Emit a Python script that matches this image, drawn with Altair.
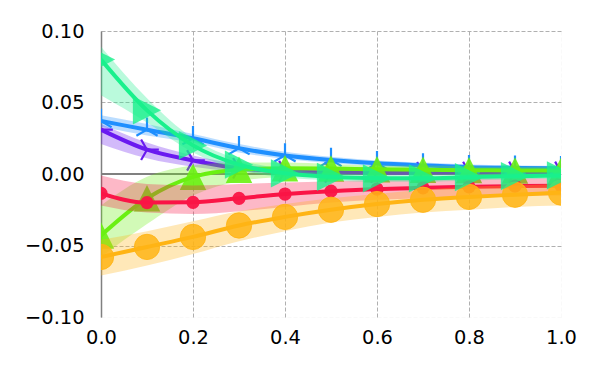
import altair as alt
import pandas as pd

# ---------------- data ----------------
x_vals = [0.0, 0.1, 0.2, 0.3, 0.4, 0.5, 0.6, 0.7, 0.8, 0.9, 1.0]

blue_mean = [0.037, 0.031, 0.025, 0.018, 0.013, 0.0098, 0.0075, 0.006, 0.0048, 0.0043, 0.004]
blue_lo = [0.033, 0.027, 0.022, 0.015, 0.0105, 0.0075, 0.0055, 0.004, 0.003, 0.0025, 0.0022]
blue_hi = [0.041, 0.035, 0.028, 0.021, 0.0155, 0.012, 0.0095, 0.008, 0.0066, 0.006, 0.0058]

purple_mean = [0.031, 0.017, 0.0095, 0.004, 0.002, 0.0012, 0.001, 0.0012, 0.0014, 0.0015, 0.0015]
purple_lo = [0.021, 0.011, 0.005, 0.0015, 0.0, -0.0005, -0.0008, -0.0005, -0.0003, -0.0002, -0.0002]
purple_hi = [0.035, 0.022, 0.013, 0.007, 0.004, 0.003, 0.0028, 0.0029, 0.003, 0.003, 0.003]

teal_mean = [0.080, 0.0445, 0.020, 0.0065, 0.0005, -0.002, -0.003, -0.003, -0.0022, -0.0015, -0.001]
teal_lo = [0.055, 0.036, 0.015, 0.003, -0.0025, -0.0045, -0.0055, -0.0055, -0.0045, -0.0038, -0.0032]
teal_hi = [0.089, 0.053, 0.025, 0.010, 0.0035, 0.0005, -0.0005, -0.0005, 0.0, 0.0008, 0.0012]

lime_mean = [-0.043, -0.017, -0.002, 0.003, 0.004, 0.0038, 0.0033, 0.003, 0.0027, 0.0025, 0.0023]
lime_lo = [-0.058, -0.035, -0.015, -0.005, -0.002, -0.001, -0.0005, -0.0003, -0.0003, -0.0003, -0.0003]
lime_hi = [-0.022, -0.002, 0.006, 0.008, 0.008, 0.007, 0.006, 0.006, 0.0055, 0.005, 0.005]

red_mean = [-0.0135, -0.020, -0.0198, -0.017, -0.014, -0.012, -0.0105, -0.0097, -0.009, -0.0085, -0.0082]
red_lo = [-0.022, -0.027, -0.028, -0.026, -0.023, -0.020, -0.018, -0.017, -0.016, -0.015, -0.015]
red_hi = [-0.001, -0.007, -0.008, -0.007, -0.006, -0.005, -0.004, -0.003, -0.003, -0.003, -0.003]

orange_mean = [-0.058, -0.051, -0.044, -0.036, -0.030, -0.025, -0.021, -0.018, -0.016, -0.0145, -0.013]
orange_lo = [-0.071, -0.064, -0.056, -0.047, -0.040, -0.034, -0.030, -0.027, -0.025, -0.023, -0.022]
orange_hi = [-0.046, -0.040, -0.033, -0.026, -0.021, -0.017, -0.014, -0.011, -0.009, -0.008, -0.007]

y_ticks = [-0.10, -0.05, 0.0, 0.05, 0.10]
x_ticks = [0.0, 0.2, 0.4, 0.6, 0.8, 1.0]

# ---------------- styles ----------------
TRI_UP = "M0,0L0,-1M0,0L-0.866,0.5M0,0L0.866,0.5"
TRI_RIGHT = "M0,0L1,0M0,0L-0.5,-0.866M0,0L-0.5,0.866"
TRIANGLE_UP = "M0,-1L-1,1L1,1Z"
TRIANGLE_RIGHT = "M1,0L-1,-1L-1,1Z"

series = [
    # name, mean, lo, hi, color, shape, size, filled, marker opacity, marker strokeWidth
    ("purple", purple_mean, purple_lo, purple_hi, "#6a1af0", TRI_RIGHT, 560, False, 1.0, 2.2),
    ("blue", blue_mean, blue_lo, blue_hi, "#1e8fff", TRI_UP, 600, False, 1.0, 2.2),
    ("lime", lime_mean, lime_lo, lime_hi, "#6af012", TRIANGLE_UP, 700, True, 0.9, 0),
    ("red", red_mean, red_lo, red_hi, "#fa1446", "circle", 175, True, 0.95, 0),
    ("orange", orange_mean, orange_lo, orange_hi, "#ffb414", "circle", 640, True, 0.85, 1),
    ("teal", teal_mean, teal_lo, teal_hi, "#19f08c", TRIANGLE_RIGHT, 800, True, 0.8, 0),
]

FONT = "DejaVu Sans"

x_enc = alt.X(
    "x:Q",
    scale=alt.Scale(domain=[0, 1], nice=False, zero=False),
    axis=alt.Axis(
        values=x_ticks, format=".1f", title=None, domain=False, ticks=False,
        labelFontSize=19.4, labelFont=FONT, labelColor="black", labelPadding=11,
        grid=True, gridDash=[4, 2], gridColor="#b0b0b0", gridWidth=1,
        gridOpacity={"condition": {"test": "datum.value > 0.999", "value": 0.08}, "value": 1},
        labelFlush=False,
    ),
)


def y_enc(field):
    return alt.Y(
        f"{field}:Q",
        scale=alt.Scale(domain=[-0.1, 0.1], nice=False, zero=False),
        axis=alt.Axis(
            values=y_ticks, format=".2f", title=None, domain=True, domainColor="#808080",
            domainWidth=1.5, ticks=False, labelFontSize=19.4, labelFont=FONT,
            labelColor="black", labelPadding=17, grid=True, gridDash=[4, 2],
            gridColor="#b0b0b0", gridWidth=1,
            gridOpacity={"condition": {"test": "datum.value < -0.099", "value": 0.08}, "value": 1},
            labelFlush=False,
        ),
    )


zero_df = pd.DataFrame({"y": [0.0]})
layers = [
    alt.Chart(zero_df).mark_rule(color="#808080", strokeWidth=2).encode(y=y_enc("y"))
]

for name, mean, lo, hi, color, shape, size, filled, mop, msw in series:
    df = pd.DataFrame({"x": x_vals, "mean": mean, "lo": lo, "hi": hi})
    base = alt.Chart(df)
    band = base.mark_area(color=color, opacity=0.3, interpolate="monotone", clip=True).encode(
        x=x_enc, y=y_enc("lo"), y2="hi:Q"
    )
    line = base.mark_line(color=color, strokeWidth=4, interpolate="monotone", clip=True).encode(
        x=x_enc, y=y_enc("mean")
    )
    if filled:
        pts = base.mark_point(
            shape=shape, size=size, filled=True,
            color=color, fillOpacity=mop, opacity=1, stroke=color, strokeWidth=msw,
            strokeOpacity=mop, clip=True,
        )
    else:
        pts = base.mark_point(
            shape=shape, size=size, filled=False, color=color, opacity=1,
            strokeWidth=msw, clip=True,
        )
    pts = pts.encode(x=x_enc, y=y_enc("mean"))
    layers += [band, line, pts]

chart = (
    alt.layer(*layers)
    .properties(
        width=460,
        height=286,
        autosize=alt.AutoSizeParams(type="none"),
        padding={"left": 93, "top": 23, "right": 31, "bottom": 50},
        background="white",
    )
    .configure_view(stroke=None)
)

chart.save("out.html", embed_options={"renderer": "svg", "actions": False})
